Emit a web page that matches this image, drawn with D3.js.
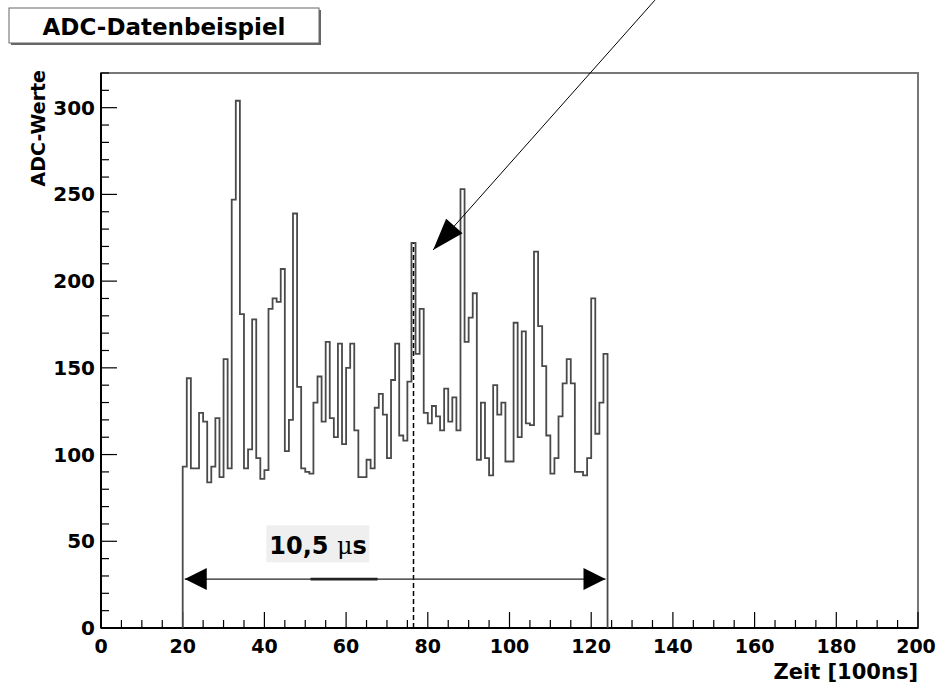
<!DOCTYPE html>
<html>
<head>
<meta charset="utf-8">
<script src="https://cdn.jsdelivr.net/npm/d3@7"></script>
<style>
  html, body { margin: 0; padding: 0; background: #fff; }
  svg { display: block; }
  text { font-family: "DejaVu Sans", sans-serif; font-weight: bold; fill: #000; }
</style>
</head>
<body>
<svg id="chart" width="937" height="686"></svg>
<script>
// histogram: first bin starts at 20, bin width 1 (unit 100 ns)
const firstBin = 20;
const adcValues = [
  93, 144, 92, 92, 124, 119, 84, 93, 121, 87,
  155, 92, 247, 304, 181, 92, 103, 178, 98, 86,
  91, 184, 190, 188, 207, 102, 120, 239, 139, 92,
  90, 89, 130, 145, 119, 165, 121, 110, 164, 106,
  150, 164, 114, 87, 87, 97, 92, 127, 135, 123,
  98, 143, 164, 111, 108, 142, 222, 158, 184, 124,
  118, 128, 122, 114, 138, 119, 133, 114, 253, 165,
  179, 193, 97, 130, 98, 88, 140, 123, 130, 96,
  96, 176, 110, 171, 118, 117, 217, 174, 151, 111,
  89, 98, 122, 141, 155, 141, 90, 90, 88, 98,
  190, 112, 130, 158
];

const xTicks = [0, 20, 40, 60, 80, 100, 120, 140, 160, 180, 200];
const yTicks = [0, 50, 100, 150, 200, 250, 300];
const xDomain = [0, 200];
const yDomain = [0, 320];

const titleText = "ADC-Datenbeispiel";
const xTitle = "Zeit [100ns]";
const yTitle = "ADC-Werte";

// annotations (data coordinates)
const markerX = 76.5;            // dashed line
const spanStart = 20.5, spanEnd = 123.5, spanY = 28.2;
const spanLabel = ["10,5 ", "\u03bc", "s"];
const pointerFrom = [135.6, 362], pointerTo = [81.3, 218];

const svg = d3.select("#chart");
const margin = { left: 101, right: 19, top: 73, bottom: 58 };
const W = 937, H = 686;

const x = d3.scaleLinear().domain(xDomain).range([margin.left, W - margin.right]);
const y = d3.scaleLinear().domain(yDomain).range([H - margin.bottom, margin.top]);

svg.append("rect").attr("width", W).attr("height", H).attr("fill", "#fff");

// title box with shadow
svg.append("rect").attr("x", 11).attr("y", 10).attr("width", 310).attr("height", 35).attr("fill", "#666");
svg.append("rect").attr("x", 9).attr("y", 8).attr("width", 310).attr("height", 35)
  .attr("fill", "#fff").attr("stroke", "#666").attr("stroke-width", 1);
svg.append("text").attr("x", 164).attr("y", 35).attr("text-anchor", "middle")
  .attr("font-size", 23).text(titleText);

// frame
svg.append("rect")
  .attr("x", x(0)).attr("y", y(320))
  .attr("width", x(200) - x(0)).attr("height", y(0) - y(320))
  .attr("fill", "none").attr("stroke", "#777").attr("stroke-width", 2);

// axes with ROOT-style inward ticks
const xMinor = d3.range(0, 201, 5);
const yMinor = d3.range(0, 321, 10);
const axisG = svg.append("g").attr("stroke", "#000").attr("stroke-width", 1.2);
axisG.selectAll(".xt").data(xMinor).enter().append("line")
  .attr("x1", d => x(d)).attr("x2", d => x(d))
  .attr("y1", y(0)).attr("y2", d => y(0) - (d % 20 === 0 ? 16 : 8));
axisG.selectAll(".yt").data(yMinor).enter().append("line")
  .attr("y1", d => y(d)).attr("y2", d => y(d))
  .attr("x1", x(0)).attr("x2", d => x(0) + (d % 50 === 0 ? 16 : 8));
axisG.append("line").attr("x1", x(0)).attr("x2", x(200)).attr("y1", y(0)).attr("y2", y(0)).attr("stroke-width", 2);
axisG.append("line").attr("x1", x(0)).attr("x2", x(0)).attr("y1", y(0)).attr("y2", y(320)).attr("stroke-width", 2);

svg.selectAll(".xl").data(xTicks).enter().append("text")
  .attr("x", d => Math.min(x(d), W - 21)).attr("y", y(0) + 25).attr("text-anchor", "middle")
  .attr("font-size", 19).text(d => d);
svg.selectAll(".yl").data(yTicks).enter().append("text")
  .attr("x", x(0) - 6).attr("y", d => y(d) + 7).attr("text-anchor", "end")
  .attr("font-size", 20).text(d => d);

svg.append("text").attr("x", x(200)).attr("y", 679).attr("text-anchor", "end")
  .attr("font-size", 21).text(xTitle);
svg.append("text").attr("transform", `translate(45,${y(320) - 3}) rotate(-90)`)
  .attr("text-anchor", "end").attr("font-size", 19).text(yTitle);

// histogram outline
const pts = [[firstBin, 0]];
adcValues.forEach((v, i) => pts.push([firstBin + i, v]));
pts.push([firstBin + adcValues.length, 0]);
const line = d3.line().x(d => x(d[0])).y(d => y(d[1])).curve(d3.curveStepAfter);
svg.append("path").attr("d", line(pts))
  .attr("fill", "none").attr("stroke", "#4a4a4a").attr("stroke-width", 1.8);

// dashed marker
const markerBin = adcValues[Math.floor(markerX) - firstBin];
svg.append("line").attr("x1", x(markerX)).attr("x2", x(markerX))
  .attr("y1", y(0)).attr("y2", y(markerBin))
  .attr("stroke", "#000").attr("stroke-width", 1.5).attr("stroke-dasharray", "5,3");

// span arrow <|>
function head(g, tip, from, len, half) {
  const dx = from[0] - tip[0], dy = from[1] - tip[1];
  const L = Math.hypot(dx, dy), ux = dx / L, uy = dy / L;
  const bx = tip[0] + ux * len, by = tip[1] + uy * len;
  g.append("path").attr("fill", "#000")
    .attr("d", `M${tip[0]},${tip[1]}L${bx - uy * half},${by + ux * half}L${bx + uy * half},${by - ux * half}Z`);
}
const sy = y(spanY);
svg.append("line").attr("x1", x(spanStart)).attr("x2", x(spanEnd)).attr("y1", sy).attr("y2", sy)
  .attr("stroke", "#222").attr("stroke-width", 1.4);
svg.append("line").attr("x1", x(51.3)).attr("x2", x(67.7)).attr("y1", sy).attr("y2", sy)
  .attr("stroke", "#222").attr("stroke-width", 2.6);
head(svg, [x(spanStart), sy], [x(spanEnd), sy], 22, 11);
head(svg, [x(spanEnd), sy], [x(spanStart), sy], 22, 11);

// label with light background
const lx = x(41.2), ly = y(42.5);
svg.append("rect").attr("x", lx - 3).attr("y", ly - 29).attr("width", 103).attr("height", 37).attr("fill", "#efefef");
const lt = svg.append("text").attr("x", lx).attr("y", ly).attr("font-size", 24);
lt.append("tspan").text(spanLabel[0]);
lt.append("tspan").attr("font-weight", "normal").attr("font-family", "'DejaVu Serif', serif").text(spanLabel[1]);
lt.append("tspan").text(spanLabel[2]);

// pointer arrow
const p0 = [x(pointerFrom[0]), y(pointerFrom[1])], p1 = [x(pointerTo[0]), y(pointerTo[1])];
svg.append("line").attr("x1", p0[0]).attr("y1", p0[1]).attr("x2", p1[0]).attr("y2", p1[1])
  .attr("stroke", "#000").attr("stroke-width", 1);
head(svg, p1, p0, 32, 11);
</script>
</body>
</html>
